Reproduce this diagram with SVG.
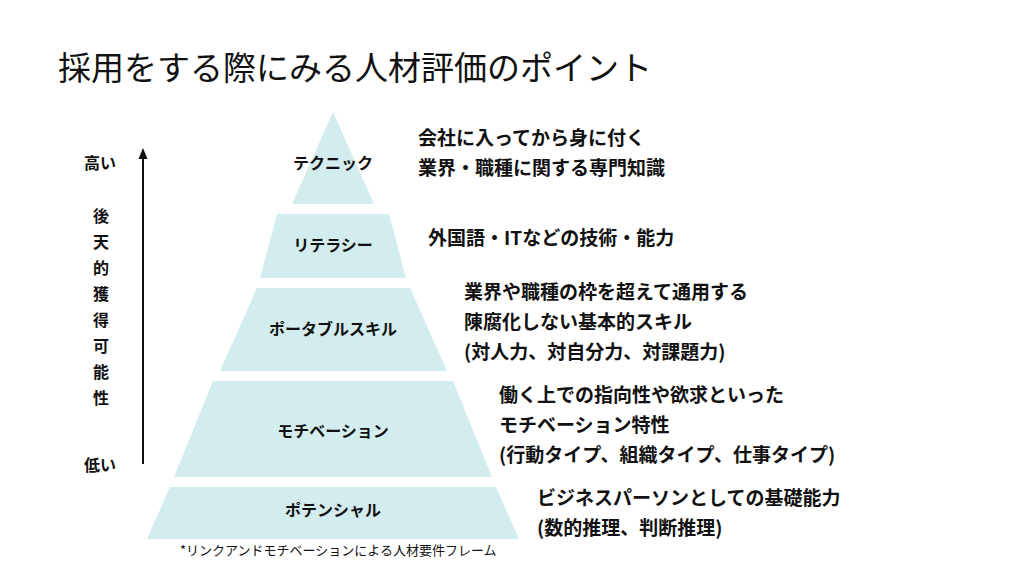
<svg xmlns="http://www.w3.org/2000/svg" width="1024" height="576" viewBox="0 0 1024 576">
<defs>
<style>
text{font-family:"Noto Sans CJK JP","Noto Sans",sans-serif;fill:#111}
.tier{fill:#d3ecee}
.lbl{font-size:16px;font-weight:700;text-anchor:middle}
.desc{font-size:19px;font-weight:700}
.axis{font-size:16px;font-weight:700}
.v{font-size:16px;font-weight:700;text-anchor:middle}
</style>
</defs>
<rect width="1024" height="576" fill="#fff"/>
<text x="58" y="80" style="font-size:33px;font-weight:400">採用をする際にみる人材評価のポイント</text>

<g id="connectors">
<line x1="143" y1="158" x2="143" y2="464" stroke="#111" stroke-width="2"/>
<polygon points="143,148 138.5,159 147.5,159" fill="#111"/>
</g>

<g id="axis-labels">
<text class="axis" x="84" y="169">高い</text>
<text class="axis" x="84" y="471">低い</text>
<text class="v" x="101" y="222">後</text>
<text class="v" x="101" y="248">天</text>
<text class="v" x="101" y="274">的</text>
<text class="v" x="101" y="300">獲</text>
<text class="v" x="101" y="326">得</text>
<text class="v" x="101" y="352">可</text>
<text class="v" x="101" y="378">能</text>
<text class="v" x="101" y="404">性</text>
</g>

<g id="technique">
<polygon class="tier" points="333,112 374,204 292,204"/>
<text class="lbl" x="333" y="169">テクニック</text>
<text class="desc" x="418" y="145">会社に入ってから身に付く</text>
<text class="desc" x="418" y="175">業界・職種に関する専門知識</text>
</g>

<g id="literacy">
<polygon class="tier" points="277,214 389,214 406,278 260,278"/>
<text class="lbl" x="333" y="251">リテラシー</text>
<text class="desc" x="428" y="245">外国語・ITなどの技術・能力</text>
</g>

<g id="portable">
<polygon class="tier" points="257,288 410,288 447,371 220,371"/>
<text class="lbl" x="333" y="335">ポータブルスキル</text>
<text class="desc" x="464" y="299">業界や職種の枠を超えて通用する</text>
<text class="desc" x="464" y="329">陳腐化しない基本的スキル</text>
<text class="desc" x="464" y="359">(対人力、対自分力、対課題力)</text>
</g>

<g id="motivation">
<polygon class="tier" points="213,381 453,381 492,477 174,477"/>
<text class="lbl" x="333" y="437">モチベーション</text>
<text class="desc" x="499" y="402">働く上での指向性や欲求といった</text>
<text class="desc" x="499" y="432">モチベーション特性</text>
<text class="desc" x="499" y="462">(行動タイプ、組織タイプ、仕事タイプ)</text>
</g>

<g id="potential">
<polygon class="tier" points="170,487 496,487 519,539 147,539"/>
<text class="lbl" x="333" y="516">ポテンシャル</text>
<text class="desc" x="537" y="505">ビジネスパーソンとしての基礎能力</text>
<text class="desc" x="537" y="535">(数的推理、判断推理)</text>
</g>

<text x="180" y="555" style="font-size:13px">*リンクアンドモチベーションによる人材要件フレーム</text>
</svg>
